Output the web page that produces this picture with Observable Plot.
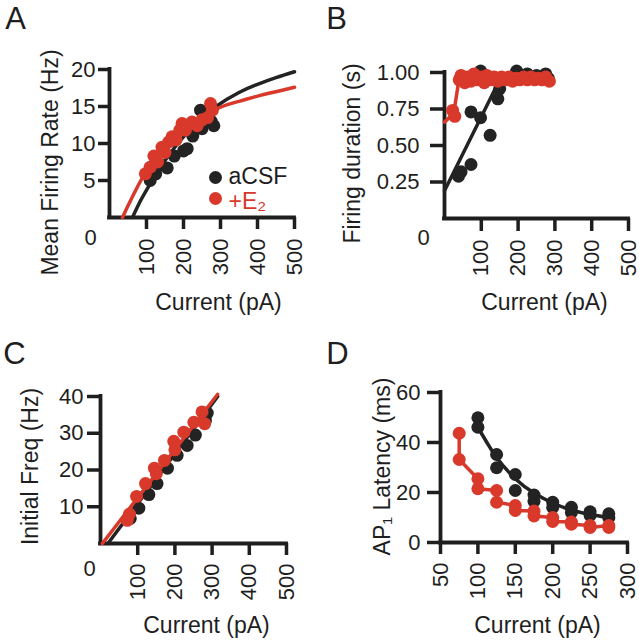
<!DOCTYPE html>
<html>
<head>
<meta charset="utf-8">
<script src="https://cdn.jsdelivr.net/npm/d3@7"></script>
<script src="https://cdn.jsdelivr.net/npm/@observablehq/plot@0.6"></script>
<style>
  html, body { margin: 0; padding: 0; background: #fff; }
  #fig { position: relative; width: 639px; height: 640px; background: #fff; overflow: hidden; }
  #fig > div { position: absolute; width: 320px; height: 320px; }
  #fig svg { overflow: visible; max-width: none !important; }
</style>
</head>
<body>
<div id="fig"></div>
<script>
// ---------------- DATA ----------------
// Panel A: Mean firing rate (Hz) vs current (pA)
const aAcsfCurrent = [110, 125, 138, 156, 175, 200, 210, 225, 246, 250, 275, 282];
const aAcsfRate    = [5.0, 5.9, 7.1, 6.7, 8.3, 9.0, 9.3, 11.0, 14.5, 12.0, 13.0, 12.4];
const aE2Current   = [97, 110, 120, 130, 142, 150, 160, 169, 180, 190, 196, 205, 210, 223, 237, 250, 265, 273, 278];
const aE2Rate      = [5.9, 6.8, 8.3, 7.5, 9.5, 8.8, 10.2, 10.9, 10.5, 11.8, 12.7, 11.8, 12.5, 12.9, 12.4, 13.2, 13.5, 15.4, 14.5];
const aAcsfFitCurrent = [62, 80, 100, 125, 150, 200, 250, 291, 350, 400, 450, 500];
const aAcsfFitRate    = [0, 1.9, 3.7, 5.8, 7.7, 10.9, 13.3, 15.1, 16.9, 18.0, 18.9, 19.7];
const aE2FitCurrent   = [35, 50, 66, 93, 125, 150, 200, 250, 300, 350, 400, 450, 500];
const aE2FitRate      = [0, 1.6, 3.2, 5.7, 7.9, 9.4, 11.7, 13.5, 14.9, 15.7, 16.4, 17.0, 17.6];

// Panel B: Firing duration (s) vs current (pA)
const bAcsfCurrent  = [38, 45, 72, 72, 98, 98, 124, 145, 150, 175, 196, 225, 250, 275, 282];
const bAcsfDuration = [0.29, 0.32, 0.37, 0.73, 0.69, 1.01, 0.57, 0.82, 0.89, 0.96, 1.01, 0.99, 0.98, 0.99, 0.96];
const bE2Current    = [22, 28, 40, 45, 55, 62, 72, 80, 88, 100, 108, 115, 125, 135, 145, 155, 165, 175, 185, 195, 205, 215, 225, 235, 245, 255, 265, 275, 285];
const bE2Duration   = [0.74, 0.70, 0.95, 0.98, 0.93, 0.97, 0.94, 0.99, 0.95, 0.97, 0.93, 0.98, 0.95, 0.97, 0.94, 0.97, 0.95, 0.97, 0.94, 0.96, 0.95, 0.97, 0.95, 0.97, 0.95, 0.96, 0.95, 0.97, 0.94];
const bAcsfFitCurrent  = [0, 150, 285];
const bAcsfFitDuration = [0.19, 0.95, 0.96];
const bE2FitCurrent    = [0, 25, 38, 285];
const bE2FitDuration   = [0.66, 0.72, 0.93, 0.96];

// Panel C: Initial frequency (Hz) vs current (pA)
const cAcsfCurrent = [80, 103, 130, 152, 180, 206, 233, 255, 282, 287];
const cAcsfFreq    = [6.8, 9.6, 13.3, 16.3, 20.5, 24.0, 26.7, 29.5, 33.5, 35.5];
const cE2Current   = [72, 78, 97, 121, 145, 150, 172, 197, 200, 224, 251, 273, 280];
const cE2Freq      = [6.3, 8.0, 12.8, 16.3, 20.5, 19.0, 22.6, 27.8, 25.5, 30.3, 33.0, 35.8, 32.6];
const cAcsfFitCurrent = [20, 315];
const cAcsfFitFreq    = [0, 40];
const cE2FitCurrent   = [5, 315];
const cE2FitFreq      = [0, 40.6];

// Panel D: AP1 latency (ms) vs current (pA)
const dAcsfCurrent = [100, 100, 125, 125, 150, 150, 175, 175, 200, 200, 225, 225, 250, 250, 275, 275];
const dAcsfLatency = [49.9, 46.1, 35.2, 29.9, 27.2, 20.8, 19.0, 16.5, 16.1, 14.0, 14.1, 12.0, 12.3, 10.8, 11.5, 9.8];
const dE2Current   = [75, 75, 100, 100, 125, 125, 150, 150, 175, 175, 200, 200, 225, 225, 250, 250, 275, 275];
const dE2Latency   = [43.7, 33.2, 25.5, 21.5, 20.8, 16.1, 14.8, 12.8, 12.6, 10.6, 10.0, 8.4, 8.2, 7.3, 6.8, 6.0, 6.8, 6.0];
const dAcsfFitCurrent = [100, 112, 125, 150, 175, 200, 225, 250, 275];
const dAcsfFitLatency = [46, 40, 34, 25.5, 19.8, 15.8, 13.0, 11.2, 10.0];

// Tick labels
const ticksCurrent500 = [100, 200, 300, 400, 500];
const ticksRateA      = [5, 10, 15, 20];
const ticksDurationB  = [0.25, 0.5, 0.75, 1.0];
const ticksFreqC      = [10, 20, 30, 40];
const ticksCurrentD   = [50, 100, 150, 200, 250, 300];
const ticksLatencyD   = [0, 20, 40, 60];

// ---------------- STYLE ----------------
const FONT = "'Liberation Sans', Arial, Helvetica, sans-serif";
const INK = "#1e1e1e";
const BLACK = "#232323";
const RED = "#d8392b";
const R = 6.5;
const TICK_FONT = 22;

const zip = (xs, ys) => xs.map((x, i) => ({x, y: ys[i]}));

function textAt(str, X, Y, m, opts = {}) {
  return Plot.text([str], {
    text: d => d, frameAnchor: "top-left",
    dx: X - m.left, dy: Y - m.top,
    textAnchor: "middle", lineAnchor: "middle",
    fontSize: 23, fill: INK, ...opts
  });
}

function panel(cfg) {
  const m = cfg.margin;
  const fw = cfg.width - m.left - m.right;
  const fh = cfg.height - m.top - m.bottom;
  const yFmt = cfg.yFormat || (d => String(d));
  const marks = [
    Plot.ruleY([cfg.yDomain[0]], {stroke: INK, strokeWidth: 3.8, strokeLinecap: "square"}),
    Plot.ruleX([cfg.xDomain[0]], {stroke: INK, strokeWidth: 3.8, strokeLinecap: "square"}),
    Plot.ruleY(cfg.yTicks, {y: d => d, insetLeft: -cfg.yTickSize, insetRight: fw, stroke: INK, strokeWidth: 3.5}),
    Plot.text(cfg.yTicks, {y: d => d, text: yFmt, frameAnchor: "left", dx: -(cfg.yTickSize + cfg.yPad),
                           textAnchor: "end", lineAnchor: "middle", fontSize: TICK_FONT, fill: INK}),
    Plot.ruleX(cfg.xTicks, {x: d => d, insetTop: fh, insetBottom: -cfg.xTickSize, stroke: INK, strokeWidth: 3.5}),
    Plot.text(cfg.xTicks, {x: d => d, text: d => String(d), frameAnchor: "bottom", dy: cfg.xTickSize + cfg.xPad,
                           rotate: -90, textAnchor: "end", lineAnchor: "middle", fontSize: TICK_FONT, fill: INK}),
    ...cfg.marks,
    textAt(cfg.letter, cfg.letterPos[0], cfg.letterPos[1], m, {fontSize: 31}),
    textAt(cfg.yTitle, cfg.yTitlePos[0], cfg.yTitlePos[1], m, {rotate: -90}),
    textAt("Current (pA)", cfg.xTitlePos[0], cfg.xTitlePos[1], m)
  ];
  if (cfg.zeroPos) marks.push(textAt("0", cfg.zeroPos[0], cfg.zeroPos[1], m, {fontSize: TICK_FONT}));
  const svg = Plot.plot({
    width: cfg.width, height: cfg.height,
    marginTop: m.top, marginRight: m.right, marginBottom: m.bottom, marginLeft: m.left,
    x: {domain: cfg.xDomain, axis: null},
    y: {domain: cfg.yDomain, axis: null},
    style: {fontSize: "22px", fontFamily: FONT, color: INK, background: "transparent", overflow: "visible", maxWidth: "none"},
    marks
  });
  const holder = document.createElement("div");
  holder.style.left = cfg.left + "px";
  holder.style.top = cfg.top + "px";
  holder.appendChild(svg);
  document.getElementById("fig").appendChild(holder);
}

const lineOpts = (color, curve) => ({x: "x", y: "y", stroke: color, strokeWidth: 3.5, curve});
const dotOpts = color => ({x: "x", y: "y", r: R, fill: color, stroke: "none"});

// ---------------- PANEL A ----------------
const mA = {top: 69, right: 26, bottom: 103, left: 109};
panel({
  left: 0, top: 0, width: 320, height: 320, margin: mA,
  xDomain: [0, 500], yDomain: [0, 20],
  xTicks: ticksCurrent500, yTicks: ticksRateA,
  xTickSize: 12, xPad: 9, yTickSize: 11, yPad: 3,
  letter: "A", letterPos: [15, 19],
  yTitle: "Mean Firing Rate (Hz)", yTitlePos: [50, 162],
  xTitlePos: [218, 302], zeroPos: [90, 237],
  marks: [
    Plot.line(zip(aAcsfFitCurrent, aAcsfFitRate), lineOpts(BLACK, "natural")),
    Plot.dot(zip(aAcsfCurrent, aAcsfRate), dotOpts(BLACK)),
    Plot.line(zip(aE2FitCurrent, aE2FitRate), lineOpts(RED, "natural")),
    Plot.dot(zip(aE2Current, aE2Rate), dotOpts(RED)),
    Plot.dot([0], {frameAnchor: "bottom-left", dx: 106, dy: -40, r: R, fill: BLACK}),
    Plot.dot([0], {frameAnchor: "bottom-left", dx: 106, dy: -19, r: R, fill: RED}),
    Plot.text(["aCSF"], {text: d => d, frameAnchor: "bottom-left", dx: 119, dy: -41, textAnchor: "start", lineAnchor: "middle", fontSize: 23, fill: INK}),
    Plot.text(["+E\u2082"], {text: d => d, frameAnchor: "bottom-left", dx: 119, dy: -16, textAnchor: "start", lineAnchor: "middle", fontSize: 23, fill: RED})
  ]
});

// ---------------- PANEL B ----------------
const mB = {top: 72, right: 11, bottom: 102, left: 124};
panel({
  left: 320, top: 0, width: 319, height: 320, margin: mB,
  xDomain: [0, 500], yDomain: [0, 1.0],
  xTicks: ticksCurrent500, yTicks: ticksDurationB, yFormat: d3.format(".2f"),
  xTickSize: 13, xPad: 8, yTickSize: 14, yPad: 11,
  letter: "B", letterPos: [16, 19],
  yTitle: "Firing duration (s)", yTitlePos: [32, 153],
  xTitlePos: [224, 302], zeroPos: [103, 237],
  marks: [
    Plot.line(zip(bAcsfFitCurrent, bAcsfFitDuration), lineOpts(BLACK, "linear")),
    Plot.dot(zip(bAcsfCurrent, bAcsfDuration), dotOpts(BLACK)),
    Plot.line(zip(bE2FitCurrent, bE2FitDuration), lineOpts(RED, "linear")),
    Plot.dot(zip(bE2Current, bE2Duration), dotOpts(RED))
  ]
});

// ---------------- PANEL C ----------------
const mC = {top: 76, right: 34, bottom: 97, left: 100};
panel({
  left: 0, top: 320, width: 320, height: 320, margin: mC,
  xDomain: [0, 500], yDomain: [0, 40],
  xTicks: ticksCurrent500, yTicks: ticksFreqC,
  xTickSize: 12, xPad: 8, yTickSize: 13, yPad: 4,
  letter: "C", letterPos: [14, 34],
  yTitle: "Initial Freq (Hz)", yTitlePos: [30, 146],
  xTitlePos: [206, 305], zeroPos: [89, 248],
  marks: [
    Plot.line(zip(cAcsfFitCurrent, cAcsfFitFreq), lineOpts(BLACK, "linear")),
    Plot.dot(zip(cAcsfCurrent, cAcsfFreq), dotOpts(BLACK)),
    Plot.line(zip(cE2FitCurrent, cE2FitFreq), lineOpts(RED, "linear")),
    Plot.dot(zip(cE2Current, cE2Freq), dotOpts(RED))
  ]
});

// ---------------- PANEL D ----------------
const mD = {top: 72, right: 12, bottom: 98, left: 120};
panel({
  left: 320, top: 320, width: 319, height: 320, margin: mD,
  xDomain: [50, 300], yDomain: [0, 60],
  xTicks: ticksCurrentD, yTicks: ticksLatencyD,
  xTickSize: 12, xPad: 8, yTickSize: 13, yPad: 7,
  letter: "D", letterPos: [17, 34],
  yTitle: "AP\u2081 Latency (ms)", yTitlePos: [62, 146],
  xTitlePos: [217, 305], zeroPos: null,
  marks: [
    Plot.line(zip(dAcsfFitCurrent, dAcsfFitLatency), lineOpts(BLACK, "natural")),
    Plot.dot(zip(dAcsfCurrent, dAcsfLatency), dotOpts(BLACK)),
    Plot.line(zip(dE2Current, dE2Latency), lineOpts(RED, "linear")),
    Plot.dot(zip(dE2Current, dE2Latency), dotOpts(RED))
  ]
});
</script>
</body>
</html>
